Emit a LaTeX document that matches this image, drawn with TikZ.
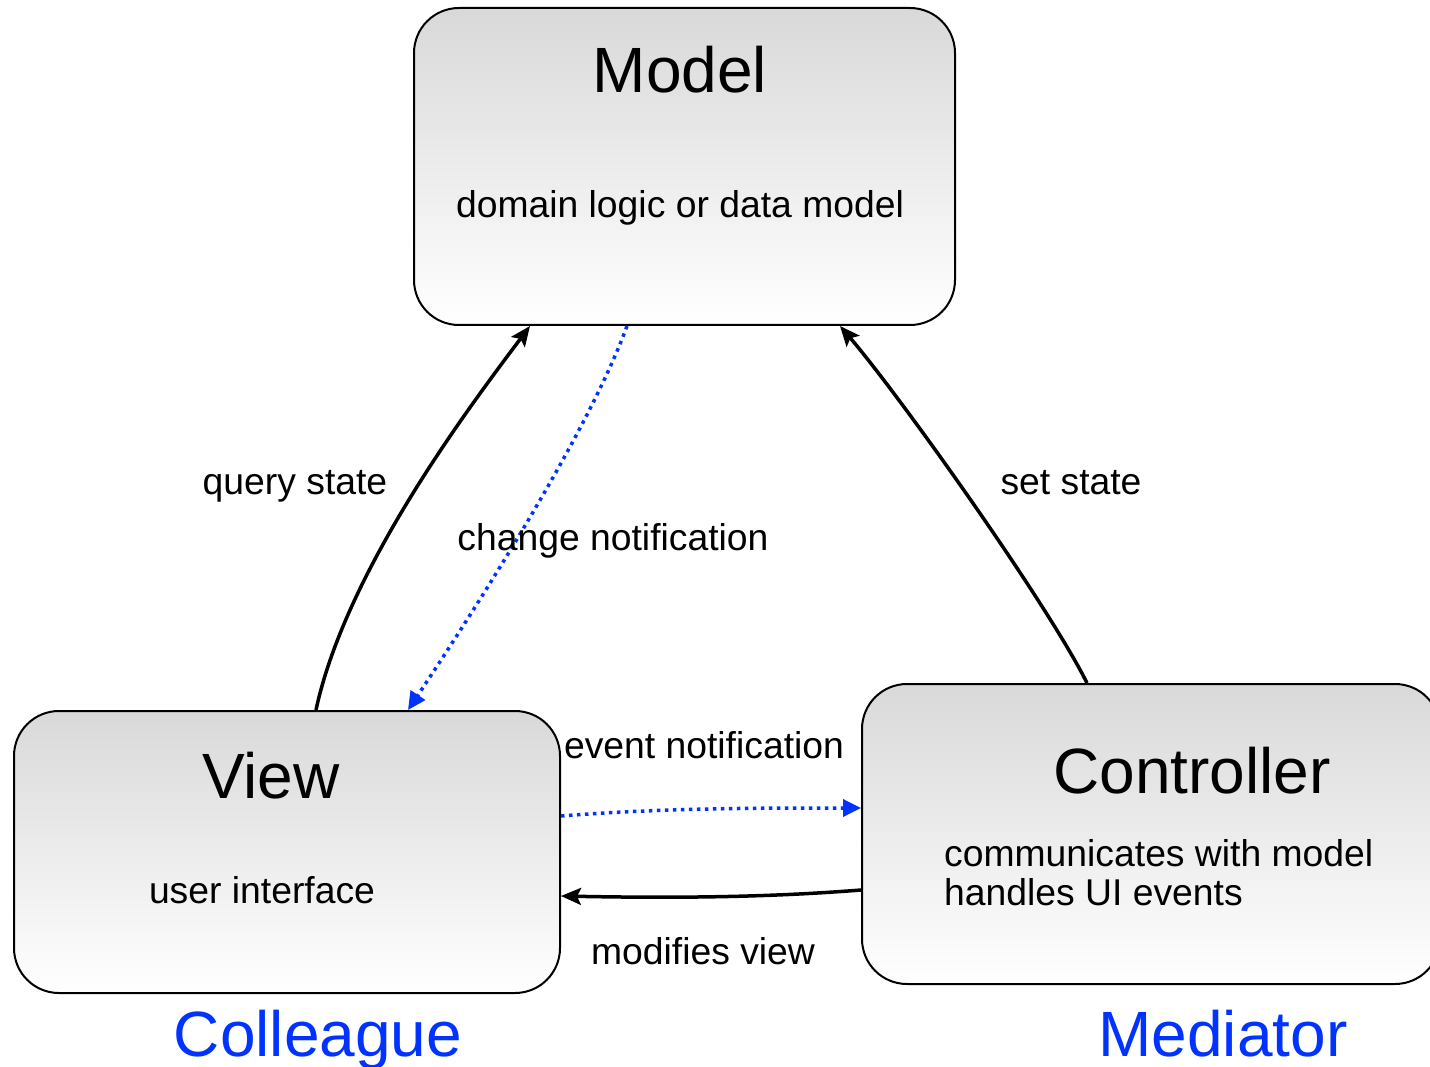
\documentclass[tikz,border=0pt]{standalone}
\usepackage{fontspec}
\setmainfont{Liberation Sans}
\usetikzlibrary{arrows.meta}
\definecolor{mvcblue}{RGB}{0,51,255}
\tikzset{
  mvcbox/.style={draw, line width=2pt, rounded corners=45pt, top color=black!15, bottom color=white, inner sep=0pt},
  bigtext/.style={font=\fontsize{64pt}{72pt}\selectfont, inner sep=0pt, anchor=base},
  smalltext/.style={font=\fontsize{37.3pt}{42pt}\selectfont, inner sep=0pt, anchor=base},
  callarrow/.style={line width=3.5pt, -{Stealth[length=20pt,width=17pt,inset=4pt]}},
  notifyarrow/.style={mvcblue, line width=3.5pt, dash pattern=on 3.5pt off 4.5pt, -{Triangle[length=18pt,width=17pt]}}
}
\begin{document}
\begin{tikzpicture}[x=1pt,y=-1pt]
    \useasboundingbox (0,0) rectangle (1430,1067);

    \node[mvcbox, minimum width=541pt, minimum height=317pt] (model) at (684.5,166.5) {};
    \node[mvcbox, minimum width=546pt, minimum height=282pt] (view) at (287,852) {};
    \node[mvcbox, minimum width=578pt, minimum height=300pt] (controller) at (1151,834) {};

    \node[bigtext] (modeltitle) at (680,93) {Model};
    \node[smalltext] (modeltext) at (680,218) {domain logic or data model};
    \node[bigtext] (viewtitle) at (271,798) {View};
    \node[smalltext] (viewtext) at (262,903) {user interface};
    \node[bigtext] (controllertitle) at (1192,793) {Controller};
    \node[smalltext, anchor=base west] (controllertexta) at (944,866) {communicates with model};
    \node[smalltext, anchor=base west] (controllertextb) at (944,905) {handles UI events};

    \draw[callarrow] ([xshift=29pt]view.north) .. controls +(30,-140) and +(-60,80) .. ([xshift=-154.5pt]model.south);
    \draw[notifyarrow] ([xshift=-57.5pt]model.south) .. controls +(-40,110) and +(60,-90) .. ([xshift=121pt]view.north);
    \draw[callarrow] ([xshift=-64pt]controller.north) .. controls +(-40,-80) and +(60,70) .. ([xshift=155.5pt]model.south);
    \draw[notifyarrow] ([yshift=36pt]view.east) .. controls +(100,-8) and +(-100,0) .. ([yshift=26pt]controller.west);
    \draw[callarrow] ([yshift=-56pt]controller.west) .. controls +(-100,8) and +(100,2) .. ([yshift=-44pt]view.east);

    \node[smalltext] (querylabel) at (295,494) {query state};
    \node[smalltext] (changelabel) at (613,550) {change notification};
    \node[smalltext] (setlabel) at (1071,494) {set state};
    \node[smalltext] (eventlabel) at (704,758) {event notification};
    \node[smalltext] (modifieslabel) at (703,964) {modifies view};

    \node[bigtext, text=mvcblue] (colleague) at (318,1056) {Colleague};
    \node[bigtext, text=mvcblue] (mediator) at (1223,1056) {Mediator};
\end{tikzpicture}
\end{document}
